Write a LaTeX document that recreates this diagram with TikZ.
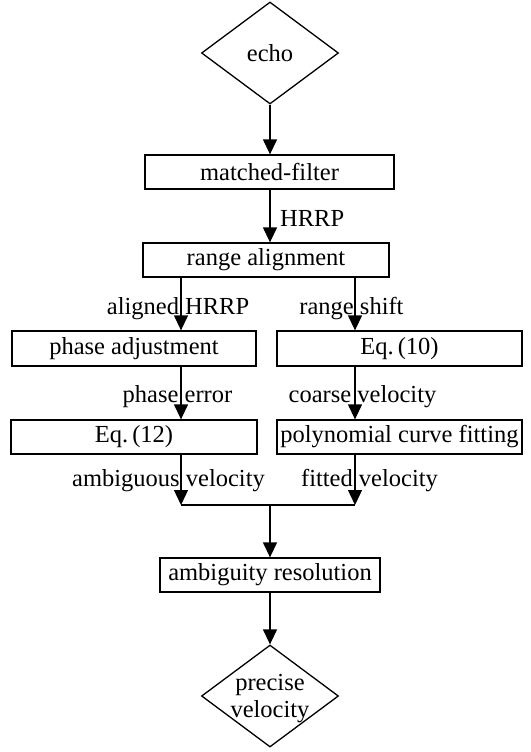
\documentclass[tikz,border=0pt]{standalone}
\usepackage{fontspec}
\setmainfont{Liberation Serif}
\usetikzlibrary{arrows.meta,shapes.geometric}
\begin{document}
\begin{tikzpicture}[x=1pt,y=-1pt,
  every node/.style={font=\fontsize{24.5}{27}\selectfont},
  boxnode/.style={draw,line width=1.3pt,rectangle,inner sep=0pt,minimum height=34pt},
  dia/.style={draw,line width=1.3pt,diamond,inner sep=0pt,minimum width=137pt,minimum height=102pt,align=center},
  lab/.style={anchor=base,inner sep=0pt},
  arr/.style={line width=1.3pt,-{Triangle[length=15pt,width=14pt]}},
  ln/.style={line width=1.3pt}]
\useasboundingbox (0,0) rectangle (530,752);
\node[dia] (echo) at (270,53) {echo};
\node[boxnode,minimum width=249pt] (mf) at (269.5,172) {matched-filter};
\node[boxnode,minimum width=246pt] (ra) at (266,260) {range alignment};
\node[boxnode,minimum width=244pt,minimum height=35pt] (pa) at (134,348.5) {phase adjustment};
\node[boxnode,minimum width=245pt,minimum height=35pt] (e10) at (399.5,348.5) {Eq.\,(10)};
\node[boxnode,minimum width=246pt] (e12) at (134,437) {Eq.\,(12)};
\node[boxnode,minimum width=245pt] (pcf) at (399.5,437) {polynomial curve fitting};
\node[boxnode,minimum width=220pt] (amb) at (270,575) {ambiguity resolution};
\node[dia] (pv) at (270,696) {};
\node[lab] (pvt1) at (270,690) {precise};
\node[lab] (pvt2) at (270,717) {velocity};
\coordinate (L) at (181,0);
\coordinate (R) at (355,0);
\coordinate (m) at (270,505);
\draw[arr] (echo.south) -- (echo.south |- mf.north);
\draw[arr] (mf.south -| echo.south) -- (ra.north -| echo.south);
\draw[arr] (ra.south -| L) -- (pa.north -| L);
\draw[arr] (ra.south -| R) -- (e10.north -| R);
\draw[arr] (pa.south -| L) -- (e12.north -| L);
\draw[arr] (e10.south -| R) -- (pcf.north -| R);
\draw[arr] (e12.south -| L) -- (m -| L);
\draw[arr] (pcf.south -| R) -- (m -| R);
\draw[ln] (m -| L) -- (m -| R);
\draw[arr] (m) -- (amb.north -| m);
\draw[arr] (amb.south -| m) -- (pv.north);
\node[anchor=base west,inner sep=0pt] (l1) at (280,226) {HRRP};
\node[lab] (l2) at (178,314) {aligned HRRP};
\node[lab] (l3) at (351.5,314) {range shift};
\node[lab] (l4) at (177.5,402) {phase error};
\node[lab] (l5) at (362.5,402) {coarse velocity};
\node[lab] (l6) at (168.5,486) {ambiguous velocity};
\node[lab] (l7) at (369.5,486) {fitted velocity};
\end{tikzpicture}
\end{document}
